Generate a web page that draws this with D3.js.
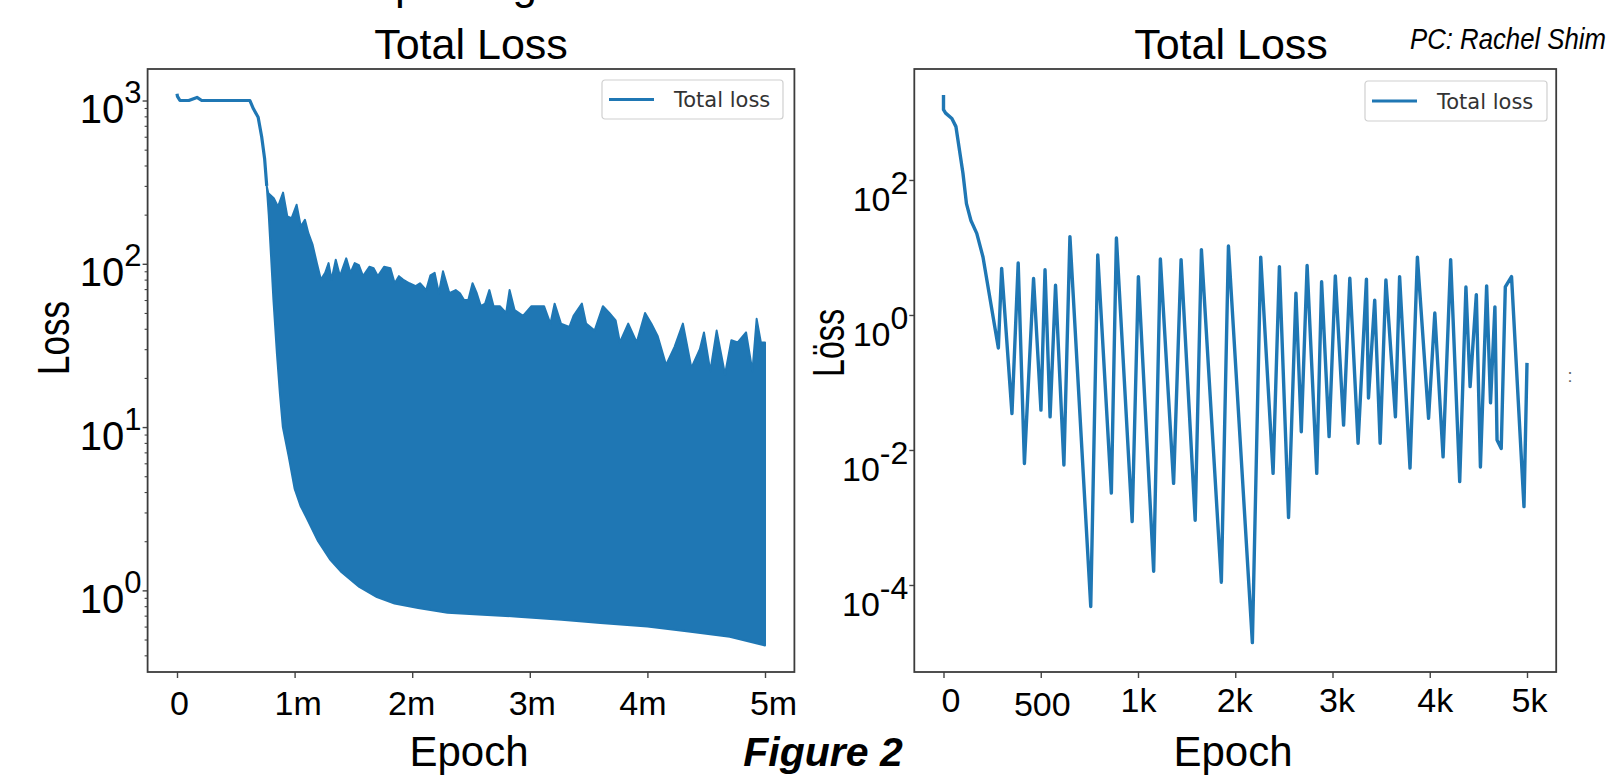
<!DOCTYPE html>
<html>
<head>
<meta charset="utf-8">
<script src="https://cdn.jsdelivr.net/npm/d3@7"></script>
<style>
  body { margin: 0; background: #fff; }
  svg { display: block; }
</style>
</head>
<body>
<div id="container"></div>
<script>
const width = 1618;
const height = 775;

// ---- left panel: 5m epochs, epochs in millions ----
// single line before the loss starts oscillating
const leftHeadEpoch = [0, 0.004, 0.025, 0.10, 0.17, 0.21, 0.40, 0.62, 0.65, 0.69, 0.72, 0.745, 0.763];
const leftHeadLoss = [1100, 1060, 1000, 1000, 1045, 1000, 1000, 1000, 890, 790, 600, 440, 300];

// upper envelope of the dense oscillation (spiky top of the blue band)
const leftUpperEpoch = [0.763, 0.777, 0.823, 0.859, 0.902, 0.938, 0.974, 1.017, 1.053, 1.088, 1.117, 1.153,
  1.189, 1.224, 1.260, 1.289, 1.314, 1.350, 1.386, 1.439, 1.475, 1.511, 1.547, 1.582, 1.636, 1.672, 1.708,
  1.761, 1.815, 1.851, 1.887, 1.922, 1.976, 2.030, 2.066, 2.119, 2.155, 2.191, 2.227, 2.262, 2.316, 2.370,
  2.406, 2.441, 2.477, 2.513, 2.549, 2.584, 2.620, 2.656, 2.692, 2.745, 2.799, 2.828, 2.871, 2.942, 3.014,
  3.068, 3.121, 3.175, 3.211, 3.265, 3.336, 3.372, 3.443, 3.479, 3.551, 3.622, 3.676, 3.730, 3.766, 3.837,
  3.909, 3.980, 4.034, 4.088, 4.159, 4.231, 4.302, 4.374, 4.446, 4.481, 4.535, 4.589, 4.660, 4.714, 4.768,
  4.839, 4.893, 4.929, 4.965, 5.000];
const leftUpperLoss = [300, 270, 252, 224, 273, 195, 190, 230, 169, 186, 154, 131,
  101, 80, 88, 101, 80, 106, 84, 108, 88, 101, 98, 84, 96, 94, 84,
  96, 94, 76, 84, 80, 76, 73, 76, 69, 85, 88, 66, 90, 66, 69,
  66, 60, 60, 76, 66, 55, 57, 69, 55, 55, 50, 69, 52, 48, 55,
  55, 55, 43, 57, 43, 41, 48, 57, 43, 39, 55, 50, 45, 33, 43,
  33, 50, 43, 36, 24, 31, 43, 23, 30, 38, 22, 39, 21, 34, 33,
  38, 22, 46, 33, 33];

// lower envelope (smooth bottom of the blue band)
const leftLowerEpoch = [0.763, 0.78, 0.80, 0.82, 0.85, 0.875, 0.90, 0.95, 1.0, 1.05, 1.1, 1.2, 1.3, 1.4,
  1.55, 1.7, 1.85, 2.05, 2.3, 2.6, 2.9, 3.27, 3.6, 4.0, 4.35, 4.7, 5.0];
const leftLowerLoss = [300, 200, 110, 60, 28, 16, 10, 6.6, 4.2, 3.3, 2.8, 2.0, 1.55, 1.29,
  1.05, 0.91, 0.83, 0.78, 0.73, 0.71, 0.69, 0.66, 0.63, 0.60, 0.56, 0.52, 0.46];

const leftTickVals = [0, 1, 2, 3, 4, 5];
const leftTickLabels = ['0', '1m', '2m', '3m', '4m', '5m'];
const leftLogTicks = [1, 10, 100, 1000];

// ---- right panel: 5k epochs ----
const rightEpoch = [0, 0, 11, 43, 64, 100, 118, 141, 171, 203, 282, 299, 352, 384, 416, 463, 501, 522,
  548, 576, 619, 650, 757, 793, 863, 889, 970, 1004, 1161, 1230, 1366, 1443, 1588, 1652, 1857, 1930,
  2176, 2262, 2389, 2454, 2548, 2624, 2679, 2739, 2838, 2888, 2965, 3029, 3114, 3178, 3263, 3349, 3370,
  3434, 3490, 3549, 3647, 3690, 3797, 3873, 3988, 4052, 4137, 4215, 4308, 4372, 4415, 4479, 4521, 4585,
  4625, 4670, 4692, 4735, 4777, 4841, 4969, 5000];
const rightLoss = [1820, 1100, 977, 813, 617, 126, 44.7, 25.1, 16.2, 7.24, 0.324, 4.9, 0.0347, 5.89,
  0.0063, 3.47, 0.0389, 4.68, 0.0309, 2.75, 0.0060, 14.5, 4.8e-5, 7.76, 0.0023, 13.8, 8.7e-4, 3.7,
  1.6e-4, 6.76, 0.0032, 6.6, 9.1e-4, 9.3, 1.1e-4, 10.5, 1.4e-5, 7.2, 0.0045, 5.2, 0.001, 2.1, 0.0186,
  5.4, 0.0045, 3.1, 0.0158, 3.8, 0.0234, 3.5, 0.0126, 3.4, 0.059, 1.66, 0.0126, 3.3, 0.031, 3.7,
  0.0054, 7.2, 0.0295, 1.07, 0.0079, 6.6, 0.0034, 2.6, 0.087, 2.0, 0.0056, 2.7, 0.05, 1.32, 0.0141,
  0.0105, 2.6, 3.7, 0.00145, 0.195];

const rightTickVals = [0, 500, 1000, 2000, 3000, 4000, 5000];
const rightTickLabels = ['0', '500', '1k', '2k', '3k', '4k', '5k'];
const rightLogTicks = [1e-4, 1e-2, 1, 1e2];

// hand-placed tick labels in the figure sit slightly off their ticks (px)
const leftLabelShift = [2, 3, -1, 2, -5, 8];
const rightLabelShift = [7, 1, 0, -1, 4, 5, 2];

const blue = '#1f77b4';
const plotTop = 69, plotBottom = 672;

const svg = d3.select('#container')
  .append('svg')
  .attr('width', width)
  .attr('height', height)
  .attr('font-family', "'Liberation Sans', Arial, sans-serif");

// scales
const xL = d3.scaleLinear().domain([-0.25, 5.25]).range([147.6, 794.4]);
const yL = d3.scaleLog().domain([10 ** -0.5, 10 ** 3.193]).range([plotBottom, plotTop]);
// the right axis has evenly spaced ticks although the labels are not
const xR = d3.scaleLinear().domain(rightTickVals).range(rightTickVals.map((_, i) => 943.5 + i * 97.25));
const xRframe = [914.3, 1556.2];
const yR = d3.scaleLog().domain([10 ** -5.289, 10 ** 3.644]).range([plotBottom, plotTop]);

const defs = svg.append('defs');
defs.append('clipPath').attr('id', 'clipL').append('rect')
  .attr('x', 147.6).attr('y', plotTop).attr('width', 794.4 - 147.6).attr('height', plotBottom - plotTop);
defs.append('clipPath').attr('id', 'clipR').append('rect')
  .attr('x', xRframe[0]).attr('y', plotTop).attr('width', xRframe[1] - xRframe[0]).attr('height', plotBottom - plotTop);

// ---- left data ----
const lineL = d3.line().x(d => xL(d[0])).y(d => yL(d[1]));
const upper = leftUpperEpoch.map((e, i) => [e, leftUpperLoss[i]]);
const lower = leftLowerEpoch.map((e, i) => [e, leftLowerLoss[i]]);
const gL = svg.append('g').attr('clip-path', 'url(#clipL)');
gL.append('path')
  .attr('d', lineL(upper.concat(lower.slice().reverse())) + 'Z')
  .attr('fill', blue)
  .attr('stroke', blue)
  .attr('stroke-width', 2)
  .attr('stroke-linejoin', 'round');
gL.append('path')
  .attr('d', lineL(leftHeadEpoch.map((e, i) => [e, leftHeadLoss[i]])))
  .attr('fill', 'none')
  .attr('stroke', blue)
  .attr('stroke-width', 3.2)
  .attr('stroke-linejoin', 'round');

// ---- right data ----
const lineR = d3.line().x(d => xR(d[0])).y(d => yR(d[1]));
svg.append('g').attr('clip-path', 'url(#clipR)')
  .append('path')
  .attr('d', lineR(rightEpoch.map((e, i) => [e, rightLoss[i]])))
  .attr('fill', 'none')
  .attr('stroke', blue)
  .attr('stroke-width', 3.4)
  .attr('stroke-linejoin', 'round');

// ---- axes ----
const styleTicks = g => g
  .call(el => el.select('.domain').remove())
  .call(el => el.selectAll('.tick line').attr('stroke', '#444').attr('stroke-width', 1.4));

svg.append('g')
  .attr('transform', `translate(0,${plotBottom})`)
  .call(d3.axisBottom(xL).tickValues(leftTickVals).tickFormat((d, i) => leftTickLabels[i]).tickSize(6))
  .call(styleTicks)
  .call(el => el.selectAll('.tick text')
    .attr('y', 43).attr('dy', 0).attr('dx', (d, i) => leftLabelShift[i])
    .attr('font-size', 34).attr('fill', '#000'));

svg.append('g')
  .attr('transform', `translate(0,${plotBottom})`)
  .call(d3.axisBottom(xR).tickValues(rightTickVals).tickFormat((d, i) => rightTickLabels[i]).tickSize(6))
  .call(styleTicks)
  .call(el => el.selectAll('.tick text')
    .attr('y', d => d === 500 ? 44 : 40).attr('dy', 0).attr('dx', (d, i) => rightLabelShift[i])
    .attr('font-size', 34).attr('fill', '#000'));

// left log axis: minor ticks then major ticks with 10^n labels
const minorL = yL.ticks().filter(v => !leftLogTicks.includes(v));
svg.append('g')
  .attr('transform', 'translate(147.6,0)')
  .call(d3.axisLeft(yL).tickValues(minorL).tickFormat('').tickSize(3))
  .call(styleTicks)
  .call(el => el.selectAll('.tick line').attr('stroke-width', 1.1));

const powerLabels = (el, size, supSize, base, rise) => el.selectAll('.tick text')
  .attr('x', -6).attr('dy', 0).attr('y', base)
  .attr('font-size', size).attr('fill', '#000')
  .call(t => t.append('tspan')
    .attr('dy', -rise)
    .attr('font-size', supSize)
    .text(d => String(Math.round(Math.log10(d)))));

svg.append('g')
  .attr('transform', 'translate(147.6,0)')
  .call(d3.axisLeft(yL).tickValues(leftLogTicks).tickFormat(() => '10').tickSize(5))
  .call(styleTicks)
  .call(el => powerLabels(el, 40, 31, 22, 20));

svg.append('g')
  .attr('transform', `translate(${xRframe[0]},0)`)
  .call(d3.axisLeft(yR).tickValues(rightLogTicks).tickFormat(() => '10').tickSize(5))
  .call(styleTicks)
  .call(el => powerLabels(el, 34, 32, 31, 17));

// frames
[[147.6, 794.4], xRframe].forEach(([a, b]) => {
  svg.append('rect')
    .attr('x', a).attr('y', plotTop).attr('width', b - a).attr('height', plotBottom - plotTop)
    .attr('fill', 'none').attr('stroke', '#3c3c3c').attr('stroke-width', 1.8);
});

// legends
const legend = (x, y, w, h) => {
  const g = svg.append('g').attr('transform', `translate(${x},${y})`);
  g.append('rect').attr('width', w).attr('height', h).attr('rx', 3)
    .attr('fill', '#fff').attr('fill-opacity', 0.8).attr('stroke', '#d0d0d0').attr('stroke-width', 1.2);
  g.append('line').attr('x1', 7).attr('x2', 52).attr('y1', h / 2).attr('y2', h / 2)
    .attr('stroke', blue).attr('stroke-width', 2.8);
  g.append('text').attr('x', 72).attr('y', h / 2 + 7.5)
    .attr('font-family', "'DejaVu Sans', sans-serif").attr('font-size', 21).attr('fill', '#333')
    .text('Total loss');
};
legend(602, 80, 181, 39);
legend(1365, 81, 182, 40);

// titles and labels
const text = (str, x, y, size, opts = {}) => svg.append('text')
  .attr('x', x).attr('y', y)
  .attr('font-size', size)
  .attr('text-anchor', opts.anchor || 'middle')
  .attr('font-style', opts.style || null)
  .attr('font-weight', opts.weight || null)
  .attr('fill', opts.fill || '#000')
  .attr('textLength', opts.len || null)
  .attr('lengthAdjust', opts.len ? 'spacingAndGlyphs' : null)
  .attr('transform', opts.rotate ? `rotate(-90,${x},${y})` : null)
  .text(str);

text('plotting', 466, -1, 44);
text('Total Loss', 471, 59, 43);
text('Total Loss', 1231, 59, 43);
text('PC: Rachel Shim', 1410, 49, 29, { anchor: 'start', style: 'italic', len: 196 });
text('Loss', 69, 338, 44, { rotate: true, len: 74 });
text('Löss', 844, 343, 44, { rotate: true, len: 68 });
text('Epoch', 469, 766, 42);
text('Epoch', 1233, 766, 42);
text('Figure 2', 823, 766, 41, { style: 'italic', weight: 'bold' });
text(':', 1570, 382, 18, { fill: '#666' });
</script>
</body>
</html>
